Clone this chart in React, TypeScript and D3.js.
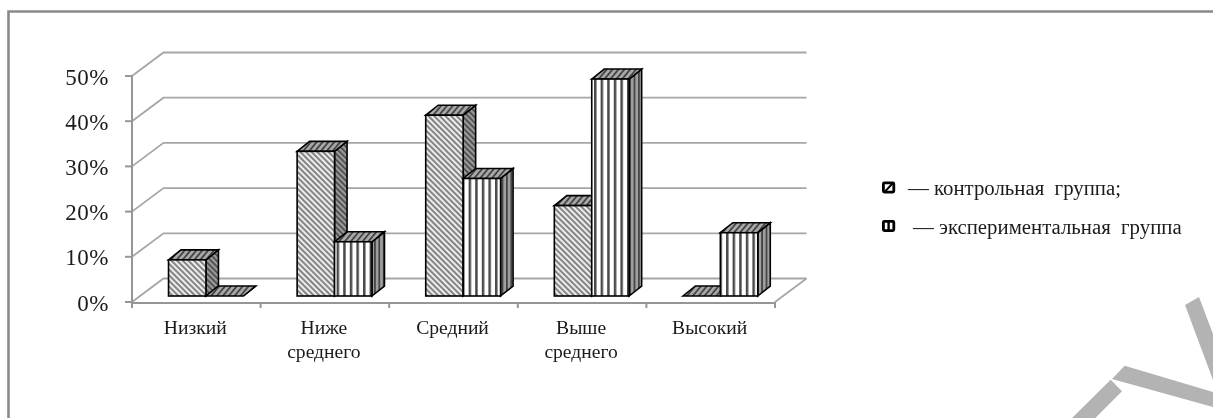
import React, { useEffect, useRef } from 'react'
import * as d3 from 'd3'

const categories = ['Низкий', 'Ниже|среднего', 'Средний', 'Выше|среднего', 'Высокий']
const controlValues = [8, 32, 40, 20, 0]
const experimentValues = [0, 12, 26, 48, 14]
const yTicks = [0, 10, 20, 30, 40, 50]
const legendItems = ['— контрольная  группа;', '— экспериментальная  группа']

const W = 1213
const H = 418
const SERIF = '"Liberation Serif", serif'

// сдвиг задней стенки и глубина столбика
const wallDx = 31.5
const wallDy = -23.5
const barDx = 12.5
const barDy = -10

export default function App() {
    const svgRef = useRef<SVGSVGElement>(null)

    useEffect(() => {
        if (!svgRef.current) return
        const svg = d3.select(svgRef.current)
        svg.selectAll('*').remove()

        const defs = svg.append('defs')
        defs.append('filter')
            .attr('id', 'soft')
            .append('feGaussianBlur')
            .attr('stdDeviation', 0.45)

        const addPattern = (
            id: string,
            size: number,
            angle: number,
            bg: string,
            line: string,
            lw: number,
        ) => {
            const p = defs
                .append('pattern')
                .attr('id', id)
                .attr('patternUnits', 'userSpaceOnUse')
                .attr('width', size)
                .attr('height', size)
                .attr('patternTransform', `rotate(${angle})`)
            p.append('rect').attr('width', size).attr('height', size).attr('fill', bg)
            p.append('rect').attr('width', lw).attr('height', size).attr('fill', line)
        }
        addPattern('ctrlFront', 4, -45, '#ececec', '#7a7a7a', 1.8)
        addPattern('ctrlSide', 4, -45, '#9a9a9a', '#444', 1.6)
        addPattern('top', 4.5, 40, '#a8a8a8', '#444', 1.8)
        addPattern('expFront', 6.6, 0, '#ffffff', '#4a4a4a', 2.5)
        addPattern('expSide', 4.4, 0, '#a0a0a0', '#444', 1.8)

        const x = d3.scaleBand<string>().domain(categories).range([132, 775])
        const y = d3.scaleLinear().domain([0, 50]).range([302, 76])
        const barWidth = x.step() * 0.291
        const baseY = y(0) - 6

        const chart = svg.append('g').attr('filter', 'url(#soft)')

        // рамка
        chart.append('path')
            .attr('d', `M8.5,${H + 5} V11.5 H${W + 5}`)
            .attr('fill', 'none')
            .attr('stroke', '#8a8a8a')
            .attr('stroke-width', 2.6)

        // линии сетки с задней стенкой
        yTicks.forEach((t) => {
            chart.append('path')
                .attr(
                    'd',
                    d3.line()([
                        [x.range()[0], y(t)],
                        [x.range()[0] + wallDx, y(t) + wallDy],
                        [x.range()[1] + wallDx, y(t) + wallDy],
                    ]),
                )
                .attr('fill', 'none')
                .attr('stroke', '#a6a6a6')
                .attr('stroke-width', 1.8)
        })
        chart.append('path')
            .attr(
                'd',
                d3.line()([
                    [x.range()[1], y(0)],
                    [x.range()[1] + wallDx, y(0) + wallDy],
                ]),
            )
            .attr('stroke', '#a6a6a6')
            .attr('stroke-width', 1.8)

        // оси
        chart.append('path')
            .attr('d', `M${x.range()[0]},${y(50)} V${y(0) + 1} H${x.range()[1]}`)
            .attr('fill', 'none')
            .attr('stroke', '#969696')
            .attr('stroke-width', 2)
        yTicks.forEach((t) => {
            chart.append('line')
                .attr('x1', x.range()[0] - 7)
                .attr('x2', x.range()[0])
                .attr('y1', y(t))
                .attr('y2', y(t))
                .attr('stroke', '#969696')
                .attr('stroke-width', 2)
        })
        d3.range(categories.length + 1).forEach((i) => {
            const tx = x.range()[0] + i * x.step()
            chart.append('line')
                .attr('x1', tx)
                .attr('x2', tx)
                .attr('y1', y(0))
                .attr('y2', y(0) + 6)
                .attr('stroke', '#969696')
                .attr('stroke-width', 2)
        })

        // столбики: сначала контрольная группа, потом экспериментальная
        const drawBar = (left: number, value: number, front: string, side: string) => {
            const w = barWidth
            const top = baseY - (y(0) - y(value))
            const g = chart.append('g').attr('stroke', '#000').attr('stroke-width', 1.6).attr('stroke-linejoin', 'miter')
            g.append('path')
                .attr('d', `M${left + w},${baseY} L${left + w + barDx},${baseY + barDy} V${top + barDy} L${left + w},${top} Z`)
                .attr('fill', `url(#${side})`)
            g.append('path')
                .attr('d', `M${left},${top} L${left + barDx},${top + barDy} H${left + w + barDx} L${left + w},${top} Z`)
                .attr('fill', 'url(#top)')
            if (value > 0) {
                g.append('rect')
                    .attr('x', left)
                    .attr('y', top)
                    .attr('width', w)
                    .attr('height', baseY - top)
                    .attr('fill', `url(#${front})`)
            }
        }
        categories.forEach((c, i) => {
            const left = (x(c) as number) + x.step() * 0.284
            drawBar(left, controlValues[i], 'ctrlFront', 'ctrlSide')
            drawBar(left + barWidth, experimentValues[i], 'expFront', 'expSide')
        })

        const text = svg.append('g').attr('font-family', SERIF).attr('fill', '#1a1a1a').attr('filter', 'url(#soft)')

        // подписи оси Y
        yTicks.forEach((t) => {
            text.append('text')
                .attr('x', 109)
                .attr('y', y(t) + 8.5)
                .attr('text-anchor', 'end')
                .attr('font-size', 23)
                .attr('letter-spacing', 0.5)
                .text(`${t}%`)
        })

        // подписи категорий
        categories.forEach((c) => {
            c.split('|').forEach((part, j) => {
                text.append('text')
                    .attr('x', (x(c) as number) + x.bandwidth() / 2 - 1)
                    .attr('y', 334 + j * 23.5)
                    .attr('text-anchor', 'middle')
                    .attr('font-size', 19.6)
                    .text(part)
            })
        })

        // легенда
        const legendY = [195, 234]
        const legendX = [908, 913]
        const boxY = [181.5, 220]
        legendItems.forEach((label, i) => {
            const box = chart.append('g').attr('transform', `translate(882,${boxY[i]})`)
            box.append('rect')
                .attr('x', 1.4)
                .attr('y', 1.4)
                .attr('width', 10.4)
                .attr('height', 9.2)
                .attr('rx', 1)
                .attr('fill', '#fff')
                .attr('stroke', '#000')
                .attr('stroke-width', 2.8)
            if (i === 0) {
                box.append('path').attr('d', 'M3,10 L10.5,2').attr('stroke', '#000').attr('stroke-width', 2)
            } else {
                box.append('path').attr('d', 'M6.6,1 V11').attr('stroke', '#000').attr('stroke-width', 2.4)
            }
            text.append('text')
                .attr('x', legendX[i])
                .attr('y', legendY[i])
                .attr('font-size', 20.8)
                .style('white-space', 'pre')
                .text(label)
        })

        // водяной знак в углу
        const mark = svg.append('g').attr('fill', '#b3b3b3')
        const wm: [number, number][][] = [
            [[1124.7, 365.7], [1112, 379], [1213, 407], [1213, 392]],
            [[1110.7, 379.7], [1122, 391.3], [1095.3, 418], [1072, 418]],
            [[1185, 305], [1199, 297], [1213, 334], [1213, 380]],
        ]
        wm.forEach((poly) => {
            mark.append('path').attr('d', d3.line()(poly) + 'Z')
        })
    }, [])

    return (
        <svg
            ref={svgRef}
            width={W}
            height={H}
            style={{ position: 'fixed', left: 0, top: 0, background: '#fff', display: 'block' }}
        />
    )
}
